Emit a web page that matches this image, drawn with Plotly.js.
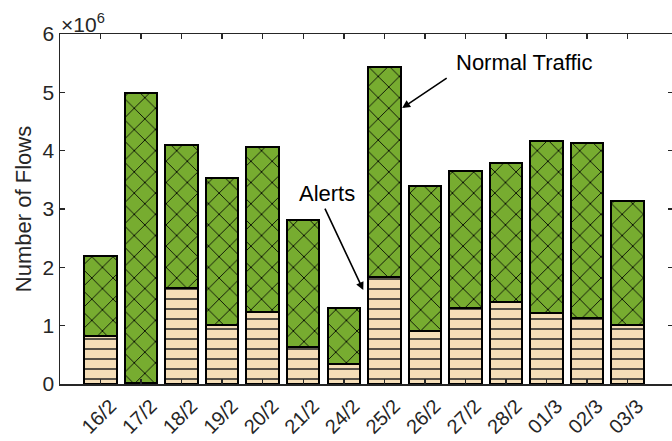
<!DOCTYPE html>
<html>
<head>
<meta charset="utf-8">
<script src="https://cdn.plot.ly/plotly-3.0.1.min.js"></script>
<style>
html,body{margin:0;padding:0;overflow:hidden;background:#fff;}
#chart{width:676px;height:441px;}
</style>
</head>
<body>
<div id="chart"></div>
<script>
// Values in units of 10^6 flows
var dates = ["16/2","17/2","18/2","19/2","20/2","21/2","24/2","25/2","26/2","27/2","28/2","01/3","02/3","03/3"];
var alerts = [0.83, 0.01, 1.65, 1.02, 1.23, 0.64, 0.35, 1.83, 0.91, 1.30, 1.41, 1.21, 1.14, 1.01];
var totals = [2.20, 4.99, 4.10, 3.53, 4.07, 2.81, 1.30, 5.44, 3.39, 3.65, 3.79, 4.17, 4.13, 3.14];
var normal = totals.map(function(t, i){ return +(t - alerts[i]).toFixed(3); });

var xs = dates.map(function(d, i){ return i; });
var axisColor = '#262626';

var traces = [
  {
    type: 'bar', name: 'Alerts', x: xs, y: alerts,
    marker: {
      color: '#F5DEB8',
      line: {color: '#000', width: 2},
      pattern: {shape: '-', fgcolor: '#222', bgcolor: '#F5DEB8', size: 10, solidity: 0.15, fillmode: 'replace'}
    },
    hoverinfo: 'y'
  },
  {
    type: 'bar', name: 'Normal Traffic', x: xs, y: normal,
    marker: {
      color: '#77AC30',
      line: {color: '#000', width: 2},
      pattern: {shape: 'x', fgcolor: '#000', bgcolor: '#77AC30', size: 15, solidity: 0.11, fillmode: 'replace'}
    },
    hoverinfo: 'y'
  }
];

var layout = {
  width: 676, height: 441,
  margin: {l: 60, r: 3, t: 34, b: 57},
  barmode: 'stack', bargap: 0.2,
  showlegend: false,
  paper_bgcolor: '#fff', plot_bgcolor: '#fff',
  font: {family: 'Liberation Sans, Arial, sans-serif', color: axisColor},
  xaxis: {
    range: [-1, 14.12],
    tickmode: 'array', tickvals: xs, ticktext: dates,
    tickangle: -45,
    ticks: 'inside', ticklen: 5, tickwidth: 1.5, tickcolor: axisColor,
    showline: true, linecolor: axisColor, linewidth: 1.5, mirror: 'ticks',
    showgrid: false, zeroline: false,
    ticklabelshift: 10, ticklabelstandoff: 1,
    tickfont: {size: 20, color: axisColor}
  },
  yaxis: {
    range: [0, 6],
    tickvals: [0,1,2,3,4,5,6],
    ticks: 'inside', ticklen: 5, tickwidth: 1.5, tickcolor: axisColor,
    showline: true, linecolor: axisColor, linewidth: 1.5, mirror: 'ticks',
    showgrid: false, zeroline: false,
    tickfont: {size: 21, color: axisColor},
    title: {text: 'Number of Flows', font: {size: 22, color: axisColor}, standoff: 5}
  },
  annotations: [
    {xref: 'paper', yref: 'paper', x: 0.0, y: 1.0, xanchor: 'left', yanchor: 'bottom',
     text: '×10<sup>6</sup>', showarrow: false, font: {size: 21, color: axisColor}, yshift: -4, xshift: -1},
    {xref: 'x', yref: 'y', x: 10.45, y: 5.52, text: 'Normal Traffic', showarrow: false,
     font: {size: 22, color: '#000'}},
    {xref: 'x', yref: 'y', x: 7.44, y: 4.73, axref: 'pixel', ayref: 'pixel', ax: 46, ay: -31,
     text: '', showarrow: true, arrowhead: 2, arrowsize: 1, arrowwidth: 1.6, arrowcolor: '#000'},
    {xref: 'x', yref: 'y', x: 5.59, y: 3.27, text: 'Alerts', showarrow: false,
     font: {size: 22, color: '#000'}},
    {xref: 'x', yref: 'y', x: 6.48, y: 1.61, axref: 'pixel', ayref: 'pixel', ax: -39, ay: -83,
     text: '', showarrow: true, arrowhead: 2, arrowsize: 1, arrowwidth: 1.6, arrowcolor: '#000'}
  ]
};

Plotly.newPlot('chart', traces, layout, {displayModeBar: false, staticPlot: true});
</script>
</body>
</html>
